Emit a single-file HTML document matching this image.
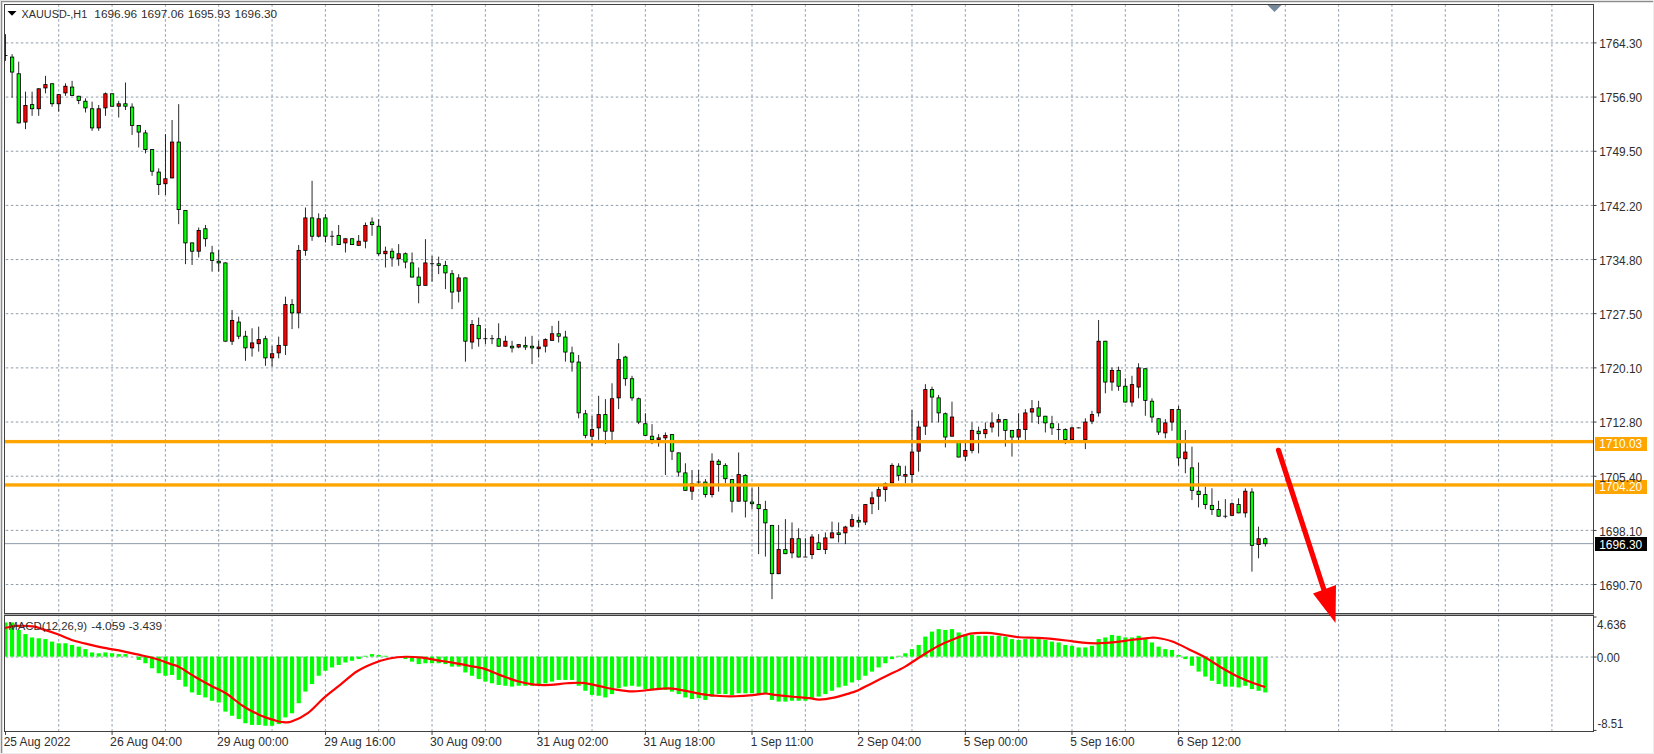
<!DOCTYPE html>
<html><head><meta charset="utf-8"><title>XAUUSD H1</title>
<style>html,body{margin:0;padding:0;background:#fff;overflow:hidden}body{width:1654px;height:754px;position:relative;font-family:'Liberation Sans', sans-serif}text{font-family:'Liberation Sans', sans-serif}</style>
</head><body>
<svg width="1654" height="754" viewBox="0 0 1654 754" style="position:absolute;left:0;top:0"><defs><clipPath id="cm"><rect x="6" y="6" width="1906" height="730"/></clipPath><clipPath id="cd"><rect x="6" y="739" width="1906" height="138"/></clipPath></defs><rect x="0" y="0" width="1654" height="754" fill="#ffffff"/><g shape-rendering="crispEdges"><rect x="0" y="0" width="1654" height="1" fill="#e3e3e3"/><rect x="0" y="0" width="1" height="754" fill="#e3e3e3"/><rect x="1" y="1" width="1652" height="1" fill="#8c8c8c"/><rect x="1" y="1" width="1" height="752" fill="#8c8c8c"/><rect x="2" y="2" width="1651" height="1" fill="#e4e4e4"/><rect x="2" y="2" width="1" height="751" fill="#dcdcdc"/><rect x="1653" y="0" width="1" height="754" fill="#ececec"/><rect x="0" y="753" width="1654" height="1" fill="#ececec"/></g><g transform="scale(0.8332493702770781)"><path d="M70.5 5V736 M134.5 5V736 M198.5 5V736 M262.5 5V736 M326.5 5V736 M390.5 5V736 M454.5 5V736 M518.5 5V736 M582.5 5V736 M646.5 5V736 M710.5 5V736 M774.5 5V736 M838.5 5V736 M902.5 5V736 M966.5 5V736 M1030.5 5V736 M1094.5 5V736 M1158.5 5V736 M1222.5 5V736 M1286.5 5V736 M1350.5 5V736 M1414.5 5V736 M1478.5 5V736 M1542.5 5V736 M1606.5 5V736 M1670.5 5V736 M1734.5 5V736 M1798.5 5V736 M1862.5 5V736" stroke="#778899" stroke-width="1" stroke-dasharray="3 3" fill="none"/><path d="M5 51.5H1912 M5 116.5H1912 M5 181.5H1912 M5 246.5H1912 M5 311.5H1912 M5 376.5H1912 M5 441.5H1912 M5 506.5H1912 M5 571.5H1912 M5 636.5H1912 M5 701.5H1912 M5 788.5H1912" stroke="#778899" stroke-width="1" stroke-dasharray="3 3" stroke-dashoffset="4" fill="none"/><path d="M70.5 737V877 M134.5 737V877 M198.5 737V877 M262.5 737V877 M326.5 737V877 M390.5 737V877 M454.5 737V877 M518.5 737V877 M582.5 737V877 M646.5 737V877 M710.5 737V877 M774.5 737V877 M838.5 737V877 M902.5 737V877 M966.5 737V877 M1030.5 737V877 M1094.5 737V877 M1158.5 737V877 M1222.5 737V877 M1286.5 737V877 M1350.5 737V877 M1414.5 737V877 M1478.5 737V877 M1542.5 737V877 M1606.5 737V877 M1670.5 737V877 M1734.5 737V877 M1798.5 737V877 M1862.5 737V877" stroke="#778899" stroke-width="1" stroke-dasharray="3 3" fill="none"/><rect x="6" y="652" width="1906" height="1" fill="#778899"/><g clip-path="url(#cm)"><g fill="#000000"><rect x="6" y="41" width="1" height="32"/><rect x="14" y="65" width="1" height="52"/><rect x="22" y="74" width="1" height="74"/><rect x="30" y="110" width="1" height="45"/><rect x="38" y="110" width="1" height="29"/><rect x="46" y="106" width="1" height="33"/><rect x="54" y="91" width="1" height="21"/><rect x="62" y="100" width="1" height="28"/><rect x="70" y="113" width="1" height="21"/><rect x="78" y="100" width="1" height="15"/><rect x="86" y="97" width="1" height="18"/><rect x="94" y="115" width="1" height="10"/><rect x="102" y="118" width="1" height="17"/><rect x="110" y="122" width="1" height="35"/><rect x="118" y="126" width="1" height="31"/><rect x="126" y="111" width="1" height="28"/><rect x="134" y="112" width="1" height="16"/><rect x="142" y="121" width="1" height="20"/><rect x="150" y="99" width="1" height="33"/><rect x="158" y="124" width="1" height="38"/><rect x="166" y="150" width="1" height="27"/><rect x="174" y="156" width="1" height="28"/><rect x="182" y="179" width="1" height="32"/><rect x="190" y="202" width="1" height="32"/><rect x="198" y="161" width="1" height="73"/><rect x="206" y="144" width="1" height="70"/><rect x="214" y="125" width="1" height="144"/><rect x="222" y="252" width="1" height="65"/><rect x="230" y="291" width="1" height="27"/><rect x="238" y="273" width="1" height="36"/><rect x="246" y="270" width="1" height="26"/><rect x="254" y="295" width="1" height="31"/><rect x="262" y="300" width="1" height="26"/><rect x="270" y="315" width="1" height="95"/><rect x="278" y="372" width="1" height="42"/><rect x="286" y="380" width="1" height="27"/><rect x="294" y="397" width="1" height="36"/><rect x="302" y="394" width="1" height="34"/><rect x="310" y="392" width="1" height="30"/><rect x="318" y="403" width="1" height="36"/><rect x="326" y="415" width="1" height="25"/><rect x="334" y="404" width="1" height="26"/><rect x="342" y="356" width="1" height="70"/><rect x="350" y="359" width="1" height="36"/><rect x="358" y="294" width="1" height="100"/><rect x="366" y="249" width="1" height="58"/><rect x="374" y="217" width="1" height="72"/><rect x="382" y="256" width="1" height="29"/><rect x="390" y="257" width="1" height="34"/><rect x="398" y="277" width="1" height="18"/><rect x="406" y="270" width="1" height="24"/><rect x="414" y="286" width="1" height="17"/><rect x="422" y="286" width="1" height="8"/><rect x="430" y="282" width="1" height="13"/><rect x="438" y="267" width="1" height="31"/><rect x="446" y="261" width="1" height="22"/><rect x="454" y="263" width="1" height="44"/><rect x="462" y="296" width="1" height="25"/><rect x="470" y="298" width="1" height="22"/><rect x="478" y="293" width="1" height="26"/><rect x="486" y="303" width="1" height="19"/><rect x="494" y="303" width="1" height="30"/><rect x="502" y="321" width="1" height="43"/><rect x="510" y="287" width="1" height="56"/><rect x="518" y="307" width="1" height="31"/><rect x="526" y="308" width="1" height="21"/><rect x="534" y="313" width="1" height="34"/><rect x="542" y="324" width="1" height="47"/><rect x="550" y="329" width="1" height="34"/><rect x="558" y="333" width="1" height="101"/><rect x="566" y="384" width="1" height="35"/><rect x="574" y="381" width="1" height="35"/><rect x="582" y="394" width="1" height="19"/><rect x="590" y="402" width="1" height="11"/><rect x="598" y="388" width="1" height="28"/><rect x="606" y="403" width="1" height="13"/><rect x="614" y="409" width="1" height="14"/><rect x="622" y="413" width="1" height="5"/><rect x="630" y="404" width="1" height="16"/><rect x="638" y="403" width="1" height="34"/><rect x="646" y="409" width="1" height="20"/><rect x="654" y="406" width="1" height="17"/><rect x="662" y="391" width="1" height="18"/><rect x="670" y="385" width="1" height="26"/><rect x="678" y="397" width="1" height="37"/><rect x="686" y="416" width="1" height="30"/><rect x="694" y="426" width="1" height="76"/><rect x="702" y="492" width="1" height="34"/><rect x="710" y="499" width="1" height="36"/><rect x="718" y="475" width="1" height="53"/><rect x="726" y="479" width="1" height="54"/><rect x="734" y="460" width="1" height="68"/><rect x="742" y="412" width="1" height="79"/><rect x="750" y="427" width="1" height="36"/><rect x="758" y="451" width="1" height="30"/><rect x="766" y="477" width="1" height="32"/><rect x="774" y="496" width="1" height="27"/><rect x="782" y="509" width="1" height="24"/><rect x="790" y="521" width="1" height="15"/><rect x="798" y="519" width="1" height="51"/><rect x="806" y="521" width="1" height="31"/><rect x="814" y="543" width="1" height="29"/><rect x="822" y="556" width="1" height="33"/><rect x="830" y="564" width="1" height="36"/><rect x="838" y="564" width="1" height="17"/><rect x="846" y="575" width="1" height="22"/><rect x="854" y="544" width="1" height="53"/><rect x="862" y="551" width="1" height="39"/><rect x="870" y="556" width="1" height="24"/><rect x="878" y="575" width="1" height="40"/><rect x="886" y="543" width="1" height="59"/><rect x="894" y="569" width="1" height="52"/><rect x="902" y="585" width="1" height="26"/><rect x="910" y="584" width="1" height="81"/><rect x="918" y="601" width="1" height="67"/><rect x="926" y="630" width="1" height="89"/><rect x="934" y="630" width="1" height="59"/><rect x="942" y="623" width="1" height="42"/><rect x="950" y="627" width="1" height="43"/><rect x="958" y="634" width="1" height="35"/><rect x="966" y="646" width="1" height="22"/><rect x="974" y="641" width="1" height="30"/><rect x="982" y="641" width="1" height="19"/><rect x="990" y="639" width="1" height="26"/><rect x="998" y="626" width="1" height="20"/><rect x="1006" y="627" width="1" height="24"/><rect x="1014" y="631" width="1" height="22"/><rect x="1022" y="617" width="1" height="16"/><rect x="1030" y="620" width="1" height="13"/><rect x="1038" y="605" width="1" height="25"/><rect x="1046" y="590" width="1" height="27"/><rect x="1054" y="584" width="1" height="28"/><rect x="1062" y="579" width="1" height="23"/><rect x="1070" y="556" width="1" height="24"/><rect x="1078" y="556" width="1" height="21"/><rect x="1086" y="559" width="1" height="21"/><rect x="1094" y="492" width="1" height="88"/><rect x="1102" y="505" width="1" height="61"/><rect x="1110" y="461" width="1" height="61"/><rect x="1118" y="464" width="1" height="43"/><rect x="1126" y="474" width="1" height="33"/><rect x="1134" y="495" width="1" height="42"/><rect x="1142" y="482" width="1" height="42"/><rect x="1150" y="529" width="1" height="20"/><rect x="1158" y="529" width="1" height="24"/><rect x="1166" y="507" width="1" height="37"/><rect x="1174" y="512" width="1" height="32"/><rect x="1182" y="507" width="1" height="19"/><rect x="1190" y="495" width="1" height="24"/><rect x="1198" y="497" width="1" height="27"/><rect x="1206" y="503" width="1" height="33"/><rect x="1214" y="516" width="1" height="32"/><rect x="1222" y="496" width="1" height="32"/><rect x="1230" y="491" width="1" height="37"/><rect x="1238" y="480" width="1" height="27"/><rect x="1246" y="481" width="1" height="28"/><rect x="1254" y="499" width="1" height="20"/><rect x="1262" y="499" width="1" height="23"/><rect x="1270" y="508" width="1" height="20"/><rect x="1278" y="514" width="1" height="19"/><rect x="1286" y="512" width="1" height="16"/><rect x="1294" y="513" width="1" height="1"/><rect x="1302" y="502" width="1" height="37"/><rect x="1310" y="493" width="1" height="16"/><rect x="1318" y="384" width="1" height="116"/><rect x="1326" y="409" width="1" height="63"/><rect x="1334" y="441" width="1" height="28"/><rect x="1342" y="440" width="1" height="29"/><rect x="1350" y="454" width="1" height="29"/><rect x="1358" y="451" width="1" height="37"/><rect x="1366" y="436" width="1" height="42"/><rect x="1374" y="442" width="1" height="57"/><rect x="1382" y="478" width="1" height="29"/><rect x="1390" y="502" width="1" height="20"/><rect x="1398" y="503" width="1" height="23"/><rect x="1406" y="491" width="1" height="26"/><rect x="1414" y="487" width="1" height="72"/><rect x="1422" y="516" width="1" height="52"/><rect x="1430" y="536" width="1" height="64"/><rect x="1438" y="555" width="1" height="54"/><rect x="1446" y="584" width="1" height="27"/><rect x="1454" y="586" width="1" height="32"/><rect x="1462" y="601" width="1" height="19"/><rect x="1470" y="599" width="1" height="23"/><rect x="1478" y="603" width="1" height="16"/><rect x="1486" y="598" width="1" height="18"/><rect x="1494" y="586" width="1" height="35"/><rect x="1502" y="586" width="1" height="100"/><rect x="1510" y="632" width="1" height="38"/><rect x="1518" y="645" width="1" height="11"/></g><g fill="#000000"><rect x="4" y="66" width="5" height="1"/><rect x="12" y="68" width="5" height="19"/><rect x="20" y="88" width="5" height="60"/><rect x="28" y="126" width="5" height="21"/><rect x="36" y="125" width="5" height="6"/><rect x="44" y="106" width="5" height="25"/><rect x="52" y="101" width="5" height="5"/><rect x="60" y="100" width="5" height="25"/><rect x="68" y="113" width="5" height="12"/><rect x="76" y="103" width="5" height="9"/><rect x="84" y="104" width="5" height="11"/><rect x="92" y="115" width="5" height="6"/><rect x="100" y="121" width="5" height="9"/><rect x="108" y="130" width="5" height="24"/><rect x="116" y="130" width="5" height="24"/><rect x="124" y="112" width="5" height="18"/><rect x="132" y="112" width="5" height="16"/><rect x="140" y="124" width="5" height="4"/><rect x="148" y="124" width="5" height="4"/><rect x="156" y="128" width="5" height="23"/><rect x="164" y="150" width="5" height="9"/><rect x="172" y="159" width="5" height="21"/><rect x="180" y="179" width="5" height="27"/><rect x="188" y="206" width="5" height="16"/><rect x="196" y="214" width="5" height="7"/><rect x="204" y="170" width="5" height="44"/><rect x="212" y="170" width="5" height="82"/><rect x="220" y="252" width="5" height="40"/><rect x="228" y="291" width="5" height="11"/><rect x="236" y="276" width="5" height="26"/><rect x="244" y="274" width="5" height="13"/><rect x="252" y="303" width="5" height="10"/><rect x="260" y="313" width="5" height="3"/><rect x="268" y="315" width="5" height="95"/><rect x="276" y="384" width="5" height="26"/><rect x="284" y="386" width="5" height="18"/><rect x="292" y="403" width="5" height="15"/><rect x="300" y="411" width="5" height="7"/><rect x="308" y="407" width="5" height="6"/><rect x="316" y="406" width="5" height="24"/><rect x="324" y="424" width="5" height="6"/><rect x="332" y="414" width="5" height="10"/><rect x="340" y="365" width="5" height="50"/><rect x="348" y="365" width="5" height="11"/><rect x="356" y="300" width="5" height="76"/><rect x="364" y="261" width="5" height="40"/><rect x="372" y="261" width="5" height="23"/><rect x="380" y="262" width="5" height="22"/><rect x="388" y="261" width="5" height="23"/><rect x="396" y="283" width="5" height="1"/><rect x="404" y="282" width="5" height="12"/><rect x="412" y="286" width="5" height="6"/><rect x="420" y="286" width="5" height="8"/><rect x="428" y="289" width="5" height="6"/><rect x="436" y="270" width="5" height="20"/><rect x="444" y="266" width="5" height="4"/><rect x="452" y="271" width="5" height="34"/><rect x="460" y="301" width="5" height="4"/><rect x="468" y="301" width="5" height="9"/><rect x="476" y="304" width="5" height="7"/><rect x="484" y="304" width="5" height="11"/><rect x="492" y="315" width="5" height="18"/><rect x="500" y="332" width="5" height="11"/><rect x="508" y="315" width="5" height="28"/><rect x="516" y="316" width="5" height="1"/><rect x="524" y="316" width="5" height="3"/><rect x="532" y="318" width="5" height="10"/><rect x="540" y="328" width="5" height="23"/><rect x="548" y="333" width="5" height="17"/><rect x="556" y="333" width="5" height="77"/><rect x="564" y="389" width="5" height="22"/><rect x="572" y="390" width="5" height="17"/><rect x="580" y="406" width="5" height="1"/><rect x="588" y="406" width="5" height="1"/><rect x="596" y="406" width="5" height="10"/><rect x="604" y="409" width="5" height="7"/><rect x="612" y="415" width="5" height="3"/><rect x="620" y="413" width="5" height="4"/><rect x="628" y="414" width="5" height="3"/><rect x="636" y="415" width="5" height="3"/><rect x="644" y="416" width="5" height="3"/><rect x="652" y="407" width="5" height="9"/><rect x="660" y="400" width="5" height="9"/><rect x="668" y="400" width="5" height="4"/><rect x="676" y="404" width="5" height="19"/><rect x="684" y="423" width="5" height="12"/><rect x="692" y="434" width="5" height="62"/><rect x="700" y="496" width="5" height="27"/><rect x="708" y="515" width="5" height="9"/><rect x="716" y="497" width="5" height="17"/><rect x="724" y="497" width="5" height="21"/><rect x="732" y="478" width="5" height="40"/><rect x="740" y="431" width="5" height="47"/><rect x="748" y="428" width="5" height="27"/><rect x="756" y="454" width="5" height="24"/><rect x="764" y="478" width="5" height="29"/><rect x="772" y="508" width="5" height="15"/><rect x="780" y="523" width="5" height="5"/><rect x="788" y="525" width="5" height="3"/><rect x="796" y="522" width="5" height="4"/><rect x="804" y="521" width="5" height="21"/><rect x="812" y="543" width="5" height="24"/><rect x="820" y="567" width="5" height="22"/><rect x="828" y="580" width="5" height="10"/><rect x="836" y="578" width="5" height="1"/><rect x="844" y="578" width="5" height="16"/><rect x="852" y="553" width="5" height="41"/><rect x="860" y="553" width="5" height="5"/><rect x="868" y="558" width="5" height="17"/><rect x="876" y="575" width="5" height="27"/><rect x="884" y="569" width="5" height="33"/><rect x="892" y="570" width="5" height="32"/><rect x="900" y="602" width="5" height="3"/><rect x="908" y="605" width="5" height="6"/><rect x="916" y="611" width="5" height="17"/><rect x="924" y="630" width="5" height="59"/><rect x="932" y="659" width="5" height="30"/><rect x="940" y="659" width="5" height="6"/><rect x="948" y="646" width="5" height="18"/><rect x="956" y="646" width="5" height="23"/><rect x="964" y="668" width="5" height="1"/><rect x="972" y="644" width="5" height="22"/><rect x="980" y="651" width="5" height="9"/><rect x="988" y="645" width="5" height="15"/><rect x="996" y="639" width="5" height="7"/><rect x="1004" y="639" width="5" height="3"/><rect x="1012" y="632" width="5" height="8"/><rect x="1020" y="623" width="5" height="9"/><rect x="1028" y="624" width="5" height="3"/><rect x="1036" y="605" width="5" height="22"/><rect x="1044" y="597" width="5" height="8"/><rect x="1052" y="587" width="5" height="9"/><rect x="1060" y="580" width="5" height="8"/><rect x="1068" y="558" width="5" height="22"/><rect x="1076" y="559" width="5" height="12"/><rect x="1084" y="569" width="5" height="3"/><rect x="1092" y="542" width="5" height="28"/><rect x="1100" y="512" width="5" height="30"/><rect x="1108" y="467" width="5" height="45"/><rect x="1116" y="467" width="5" height="10"/><rect x="1124" y="477" width="5" height="19"/><rect x="1132" y="496" width="5" height="29"/><rect x="1140" y="500" width="5" height="24"/><rect x="1148" y="529" width="5" height="20"/><rect x="1156" y="540" width="5" height="8"/><rect x="1164" y="516" width="5" height="25"/><rect x="1172" y="517" width="5" height="4"/><rect x="1180" y="515" width="5" height="6"/><rect x="1188" y="507" width="5" height="6"/><rect x="1196" y="503" width="5" height="4"/><rect x="1204" y="503" width="5" height="14"/><rect x="1212" y="516" width="5" height="9"/><rect x="1220" y="515" width="5" height="10"/><rect x="1228" y="495" width="5" height="21"/><rect x="1236" y="490" width="5" height="5"/><rect x="1244" y="489" width="5" height="11"/><rect x="1252" y="499" width="5" height="9"/><rect x="1260" y="508" width="5" height="6"/><rect x="1268" y="515" width="5" height="1"/><rect x="1276" y="515" width="5" height="13"/><rect x="1284" y="513" width="5" height="15"/><rect x="1292" y="513" width="5" height="1"/><rect x="1300" y="506" width="5" height="22"/><rect x="1308" y="497" width="5" height="9"/><rect x="1316" y="409" width="5" height="87"/><rect x="1324" y="409" width="5" height="50"/><rect x="1332" y="444" width="5" height="15"/><rect x="1340" y="444" width="5" height="20"/><rect x="1348" y="463" width="5" height="20"/><rect x="1356" y="461" width="5" height="22"/><rect x="1364" y="441" width="5" height="24"/><rect x="1372" y="442" width="5" height="39"/><rect x="1380" y="481" width="5" height="20"/><rect x="1388" y="502" width="5" height="17"/><rect x="1396" y="507" width="5" height="13"/><rect x="1404" y="491" width="5" height="16"/><rect x="1412" y="491" width="5" height="59"/><rect x="1420" y="542" width="5" height="9"/><rect x="1428" y="561" width="5" height="28"/><rect x="1436" y="589" width="5" height="5"/><rect x="1444" y="593" width="5" height="13"/><rect x="1452" y="606" width="5" height="6"/><rect x="1460" y="611" width="5" height="9"/><rect x="1468" y="619" width="5" height="1"/><rect x="1476" y="604" width="5" height="15"/><rect x="1484" y="605" width="5" height="11"/><rect x="1492" y="589" width="5" height="27"/><rect x="1500" y="590" width="5" height="65"/><rect x="1508" y="646" width="5" height="8"/><rect x="1516" y="646" width="5" height="7"/></g><g fill="#00ff00"><rect x="13" y="69" width="3" height="17"/><rect x="21" y="89" width="3" height="58"/><rect x="37" y="126" width="3" height="4"/><rect x="61" y="101" width="3" height="23"/><rect x="85" y="105" width="3" height="9"/><rect x="93" y="116" width="3" height="4"/><rect x="101" y="122" width="3" height="7"/><rect x="109" y="131" width="3" height="22"/><rect x="133" y="113" width="3" height="14"/><rect x="149" y="125" width="3" height="2"/><rect x="157" y="129" width="3" height="21"/><rect x="165" y="151" width="3" height="7"/><rect x="173" y="160" width="3" height="19"/><rect x="181" y="180" width="3" height="25"/><rect x="189" y="207" width="3" height="14"/><rect x="213" y="171" width="3" height="80"/><rect x="221" y="253" width="3" height="38"/><rect x="229" y="292" width="3" height="9"/><rect x="245" y="275" width="3" height="11"/><rect x="253" y="304" width="3" height="8"/><rect x="261" y="314" width="3" height="1"/><rect x="269" y="316" width="3" height="93"/><rect x="285" y="387" width="3" height="16"/><rect x="293" y="404" width="3" height="13"/><rect x="317" y="407" width="3" height="22"/><rect x="349" y="366" width="3" height="9"/><rect x="373" y="262" width="3" height="21"/><rect x="389" y="262" width="3" height="21"/><rect x="405" y="283" width="3" height="10"/><rect x="421" y="287" width="3" height="6"/><rect x="445" y="267" width="3" height="2"/><rect x="453" y="272" width="3" height="32"/><rect x="469" y="302" width="3" height="7"/><rect x="485" y="305" width="3" height="9"/><rect x="493" y="316" width="3" height="16"/><rect x="501" y="333" width="3" height="9"/><rect x="525" y="317" width="3" height="1"/><rect x="533" y="319" width="3" height="8"/><rect x="541" y="329" width="3" height="21"/><rect x="557" y="334" width="3" height="75"/><rect x="573" y="391" width="3" height="15"/><rect x="597" y="407" width="3" height="8"/><rect x="613" y="416" width="3" height="1"/><rect x="629" y="415" width="3" height="1"/><rect x="637" y="416" width="3" height="1"/><rect x="669" y="401" width="3" height="2"/><rect x="677" y="405" width="3" height="17"/><rect x="685" y="424" width="3" height="10"/><rect x="693" y="435" width="3" height="60"/><rect x="701" y="497" width="3" height="25"/><rect x="725" y="498" width="3" height="19"/><rect x="749" y="429" width="3" height="25"/><rect x="757" y="455" width="3" height="22"/><rect x="765" y="479" width="3" height="27"/><rect x="773" y="509" width="3" height="13"/><rect x="781" y="524" width="3" height="3"/><rect x="805" y="522" width="3" height="19"/><rect x="813" y="544" width="3" height="22"/><rect x="821" y="568" width="3" height="20"/><rect x="845" y="579" width="3" height="14"/><rect x="861" y="554" width="3" height="3"/><rect x="869" y="559" width="3" height="15"/><rect x="877" y="576" width="3" height="25"/><rect x="893" y="571" width="3" height="30"/><rect x="901" y="603" width="3" height="1"/><rect x="909" y="606" width="3" height="4"/><rect x="917" y="612" width="3" height="15"/><rect x="925" y="631" width="3" height="57"/><rect x="941" y="660" width="3" height="4"/><rect x="957" y="647" width="3" height="21"/><rect x="981" y="652" width="3" height="7"/><rect x="1005" y="640" width="3" height="1"/><rect x="1029" y="625" width="3" height="1"/><rect x="1077" y="560" width="3" height="10"/><rect x="1117" y="468" width="3" height="8"/><rect x="1125" y="478" width="3" height="17"/><rect x="1133" y="497" width="3" height="27"/><rect x="1149" y="530" width="3" height="18"/><rect x="1173" y="518" width="3" height="2"/><rect x="1205" y="504" width="3" height="12"/><rect x="1213" y="517" width="3" height="7"/><rect x="1245" y="490" width="3" height="9"/><rect x="1253" y="500" width="3" height="7"/><rect x="1261" y="509" width="3" height="4"/><rect x="1277" y="516" width="3" height="11"/><rect x="1325" y="410" width="3" height="48"/><rect x="1341" y="445" width="3" height="18"/><rect x="1349" y="464" width="3" height="18"/><rect x="1373" y="443" width="3" height="37"/><rect x="1381" y="482" width="3" height="18"/><rect x="1389" y="503" width="3" height="15"/><rect x="1413" y="492" width="3" height="57"/><rect x="1429" y="562" width="3" height="26"/><rect x="1437" y="590" width="3" height="3"/><rect x="1445" y="594" width="3" height="11"/><rect x="1453" y="607" width="3" height="4"/><rect x="1461" y="612" width="3" height="7"/><rect x="1485" y="606" width="3" height="9"/><rect x="1501" y="591" width="3" height="63"/><rect x="1517" y="647" width="3" height="5"/></g><g fill="#ff0000"><rect x="29" y="127" width="3" height="19"/><rect x="45" y="107" width="3" height="23"/><rect x="53" y="102" width="3" height="3"/><rect x="69" y="114" width="3" height="10"/><rect x="77" y="104" width="3" height="7"/><rect x="117" y="131" width="3" height="22"/><rect x="125" y="113" width="3" height="16"/><rect x="141" y="125" width="3" height="2"/><rect x="197" y="215" width="3" height="5"/><rect x="205" y="171" width="3" height="42"/><rect x="237" y="277" width="3" height="24"/><rect x="277" y="385" width="3" height="24"/><rect x="301" y="412" width="3" height="5"/><rect x="309" y="408" width="3" height="4"/><rect x="325" y="425" width="3" height="4"/><rect x="333" y="415" width="3" height="8"/><rect x="341" y="366" width="3" height="48"/><rect x="357" y="301" width="3" height="74"/><rect x="365" y="262" width="3" height="38"/><rect x="381" y="263" width="3" height="20"/><rect x="413" y="287" width="3" height="4"/><rect x="429" y="290" width="3" height="4"/><rect x="437" y="271" width="3" height="18"/><rect x="461" y="302" width="3" height="2"/><rect x="477" y="305" width="3" height="5"/><rect x="509" y="316" width="3" height="26"/><rect x="549" y="334" width="3" height="15"/><rect x="565" y="390" width="3" height="20"/><rect x="605" y="410" width="3" height="5"/><rect x="621" y="414" width="3" height="2"/><rect x="645" y="417" width="3" height="1"/><rect x="653" y="408" width="3" height="7"/><rect x="661" y="401" width="3" height="7"/><rect x="709" y="516" width="3" height="7"/><rect x="717" y="498" width="3" height="15"/><rect x="733" y="479" width="3" height="38"/><rect x="741" y="432" width="3" height="45"/><rect x="789" y="526" width="3" height="1"/><rect x="797" y="523" width="3" height="2"/><rect x="829" y="581" width="3" height="8"/><rect x="853" y="554" width="3" height="39"/><rect x="885" y="570" width="3" height="31"/><rect x="933" y="660" width="3" height="28"/><rect x="949" y="647" width="3" height="16"/><rect x="973" y="645" width="3" height="20"/><rect x="989" y="646" width="3" height="13"/><rect x="997" y="640" width="3" height="5"/><rect x="1013" y="633" width="3" height="6"/><rect x="1021" y="624" width="3" height="7"/><rect x="1037" y="606" width="3" height="20"/><rect x="1045" y="598" width="3" height="6"/><rect x="1053" y="588" width="3" height="7"/><rect x="1061" y="581" width="3" height="6"/><rect x="1069" y="559" width="3" height="20"/><rect x="1085" y="570" width="3" height="1"/><rect x="1093" y="543" width="3" height="26"/><rect x="1101" y="513" width="3" height="28"/><rect x="1109" y="468" width="3" height="43"/><rect x="1141" y="501" width="3" height="22"/><rect x="1157" y="541" width="3" height="6"/><rect x="1165" y="517" width="3" height="23"/><rect x="1181" y="516" width="3" height="4"/><rect x="1189" y="508" width="3" height="4"/><rect x="1197" y="504" width="3" height="2"/><rect x="1221" y="516" width="3" height="8"/><rect x="1229" y="496" width="3" height="19"/><rect x="1237" y="491" width="3" height="3"/><rect x="1285" y="514" width="3" height="13"/><rect x="1301" y="507" width="3" height="20"/><rect x="1309" y="498" width="3" height="7"/><rect x="1317" y="410" width="3" height="85"/><rect x="1333" y="445" width="3" height="13"/><rect x="1357" y="462" width="3" height="20"/><rect x="1365" y="442" width="3" height="22"/><rect x="1397" y="508" width="3" height="11"/><rect x="1405" y="492" width="3" height="14"/><rect x="1421" y="543" width="3" height="7"/><rect x="1477" y="605" width="3" height="13"/><rect x="1493" y="590" width="3" height="25"/><rect x="1509" y="647" width="3" height="6"/></g></g><rect x="6" y="528" width="1906" height="4" fill="#ffa500"/><rect x="6" y="580" width="1906" height="4" fill="#ffa500"/><g clip-path="url(#cd)" fill="#00ff00"><rect x="4" y="747" width="5" height="41"/><rect x="12" y="747" width="5" height="41"/><rect x="20" y="756" width="5" height="32"/><rect x="28" y="761" width="5" height="27"/><rect x="36" y="765" width="5" height="23"/><rect x="44" y="766" width="5" height="22"/><rect x="52" y="767" width="5" height="21"/><rect x="60" y="770" width="5" height="18"/><rect x="68" y="772" width="5" height="16"/><rect x="76" y="772" width="5" height="16"/><rect x="84" y="774" width="5" height="14"/><rect x="92" y="776" width="5" height="12"/><rect x="100" y="779" width="5" height="9"/><rect x="108" y="783" width="5" height="5"/><rect x="116" y="784" width="5" height="4"/><rect x="124" y="783" width="5" height="5"/><rect x="132" y="784" width="5" height="4"/><rect x="140" y="785" width="5" height="3"/><rect x="148" y="785" width="5" height="3"/><rect x="164" y="788" width="5" height="4"/><rect x="172" y="788" width="5" height="8"/><rect x="180" y="788" width="5" height="14"/><rect x="188" y="788" width="5" height="20"/><rect x="196" y="788" width="5" height="23"/><rect x="204" y="788" width="5" height="22"/><rect x="212" y="788" width="5" height="28"/><rect x="220" y="788" width="5" height="36"/><rect x="228" y="788" width="5" height="43"/><rect x="236" y="788" width="5" height="46"/><rect x="244" y="788" width="5" height="49"/><rect x="252" y="788" width="5" height="53"/><rect x="260" y="788" width="5" height="55"/><rect x="268" y="788" width="5" height="66"/><rect x="276" y="788" width="5" height="71"/><rect x="284" y="788" width="5" height="75"/><rect x="292" y="788" width="5" height="80"/><rect x="300" y="788" width="5" height="82"/><rect x="308" y="788" width="5" height="82"/><rect x="316" y="788" width="5" height="83"/><rect x="324" y="788" width="5" height="83"/><rect x="332" y="788" width="5" height="81"/><rect x="340" y="788" width="5" height="73"/><rect x="348" y="788" width="5" height="68"/><rect x="356" y="788" width="5" height="56"/><rect x="364" y="788" width="5" height="42"/><rect x="372" y="788" width="5" height="33"/><rect x="380" y="788" width="5" height="23"/><rect x="388" y="788" width="5" height="17"/><rect x="396" y="788" width="5" height="13"/><rect x="404" y="788" width="5" height="10"/><rect x="412" y="788" width="5" height="7"/><rect x="420" y="788" width="5" height="5"/><rect x="428" y="788" width="5" height="3"/><rect x="436" y="787" width="5" height="1"/><rect x="444" y="785" width="5" height="3"/><rect x="452" y="786" width="5" height="2"/><rect x="460" y="787" width="5" height="1"/><rect x="484" y="788" width="5" height="3"/><rect x="492" y="788" width="5" height="6"/><rect x="500" y="788" width="5" height="9"/><rect x="508" y="788" width="5" height="8"/><rect x="516" y="788" width="5" height="8"/><rect x="524" y="788" width="5" height="8"/><rect x="532" y="788" width="5" height="9"/><rect x="540" y="788" width="5" height="12"/><rect x="548" y="788" width="5" height="12"/><rect x="556" y="788" width="5" height="19"/><rect x="564" y="788" width="5" height="23"/><rect x="572" y="788" width="5" height="27"/><rect x="580" y="788" width="5" height="30"/><rect x="588" y="788" width="5" height="32"/><rect x="596" y="788" width="5" height="34"/><rect x="604" y="788" width="5" height="35"/><rect x="612" y="788" width="5" height="36"/><rect x="620" y="788" width="5" height="35"/><rect x="628" y="788" width="5" height="35"/><rect x="636" y="788" width="5" height="35"/><rect x="644" y="788" width="5" height="34"/><rect x="652" y="788" width="5" height="32"/><rect x="660" y="788" width="5" height="30"/><rect x="668" y="788" width="5" height="28"/><rect x="676" y="788" width="5" height="28"/><rect x="684" y="788" width="5" height="28"/><rect x="692" y="788" width="5" height="35"/><rect x="700" y="788" width="5" height="41"/><rect x="708" y="788" width="5" height="46"/><rect x="716" y="788" width="5" height="47"/><rect x="724" y="788" width="5" height="49"/><rect x="732" y="788" width="5" height="45"/><rect x="740" y="788" width="5" height="38"/><rect x="748" y="788" width="5" height="36"/><rect x="756" y="788" width="5" height="35"/><rect x="764" y="788" width="5" height="36"/><rect x="772" y="788" width="5" height="39"/><rect x="780" y="788" width="5" height="40"/><rect x="788" y="788" width="5" height="38"/><rect x="796" y="788" width="5" height="40"/><rect x="804" y="788" width="5" height="42"/><rect x="812" y="788" width="5" height="45"/><rect x="820" y="788" width="5" height="49"/><rect x="828" y="788" width="5" height="51"/><rect x="836" y="788" width="5" height="50"/><rect x="844" y="788" width="5" height="52"/><rect x="852" y="788" width="5" height="48"/><rect x="860" y="788" width="5" height="45"/><rect x="868" y="788" width="5" height="45"/><rect x="876" y="788" width="5" height="46"/><rect x="884" y="788" width="5" height="44"/><rect x="892" y="788" width="5" height="44"/><rect x="900" y="788" width="5" height="44"/><rect x="908" y="788" width="5" height="45"/><rect x="916" y="788" width="5" height="45"/><rect x="924" y="788" width="5" height="52"/><rect x="932" y="788" width="5" height="54"/><rect x="940" y="788" width="5" height="54"/><rect x="948" y="788" width="5" height="53"/><rect x="956" y="788" width="5" height="53"/><rect x="964" y="788" width="5" height="53"/><rect x="972" y="788" width="5" height="50"/><rect x="980" y="788" width="5" height="48"/><rect x="988" y="788" width="5" height="45"/><rect x="996" y="788" width="5" height="41"/><rect x="1004" y="788" width="5" height="37"/><rect x="1012" y="788" width="5" height="35"/><rect x="1020" y="788" width="5" height="31"/><rect x="1028" y="788" width="5" height="28"/><rect x="1036" y="788" width="5" height="23"/><rect x="1044" y="788" width="5" height="18"/><rect x="1052" y="788" width="5" height="13"/><rect x="1060" y="788" width="5" height="8"/><rect x="1068" y="788" width="5" height="3"/><rect x="1076" y="787" width="5" height="1"/><rect x="1084" y="784" width="5" height="4"/><rect x="1092" y="779" width="5" height="9"/><rect x="1100" y="774" width="5" height="14"/><rect x="1108" y="764" width="5" height="24"/><rect x="1116" y="758" width="5" height="30"/><rect x="1124" y="755" width="5" height="33"/><rect x="1132" y="756" width="5" height="32"/><rect x="1140" y="755" width="5" height="33"/><rect x="1148" y="759" width="5" height="29"/><rect x="1156" y="763" width="5" height="25"/><rect x="1164" y="762" width="5" height="26"/><rect x="1172" y="763" width="5" height="25"/><rect x="1180" y="763" width="5" height="25"/><rect x="1188" y="763" width="5" height="25"/><rect x="1196" y="763" width="5" height="25"/><rect x="1204" y="764" width="5" height="24"/><rect x="1212" y="767" width="5" height="21"/><rect x="1220" y="768" width="5" height="20"/><rect x="1228" y="767" width="5" height="21"/><rect x="1236" y="767" width="5" height="21"/><rect x="1244" y="767" width="5" height="21"/><rect x="1252" y="768" width="5" height="20"/><rect x="1260" y="770" width="5" height="18"/><rect x="1268" y="771" width="5" height="17"/><rect x="1276" y="774" width="5" height="14"/><rect x="1284" y="775" width="5" height="13"/><rect x="1292" y="777" width="5" height="11"/><rect x="1300" y="777" width="5" height="11"/><rect x="1308" y="775" width="5" height="13"/><rect x="1316" y="767" width="5" height="21"/><rect x="1324" y="765" width="5" height="23"/><rect x="1332" y="762" width="5" height="26"/><rect x="1340" y="763" width="5" height="25"/><rect x="1348" y="765" width="5" height="23"/><rect x="1356" y="765" width="5" height="23"/><rect x="1364" y="763" width="5" height="25"/><rect x="1372" y="767" width="5" height="21"/><rect x="1380" y="771" width="5" height="17"/><rect x="1388" y="776" width="5" height="12"/><rect x="1396" y="779" width="5" height="9"/><rect x="1404" y="780" width="5" height="8"/><rect x="1412" y="786" width="5" height="2"/><rect x="1420" y="788" width="5" height="3"/><rect x="1428" y="788" width="5" height="11"/><rect x="1436" y="788" width="5" height="18"/><rect x="1444" y="788" width="5" height="24"/><rect x="1452" y="788" width="5" height="29"/><rect x="1460" y="788" width="5" height="33"/><rect x="1468" y="788" width="5" height="36"/><rect x="1476" y="788" width="5" height="36"/><rect x="1484" y="788" width="5" height="37"/><rect x="1492" y="788" width="5" height="35"/><rect x="1500" y="788" width="5" height="39"/><rect x="1508" y="788" width="5" height="41"/><rect x="1516" y="788" width="5" height="43"/></g><g clip-path="url(#cd)"><path d="M6.0 753.7 C8.3 753.3 14.0 751.5 19.6 751.2 C25.1 750.8 33.9 751.1 39.1 751.8 C44.3 752.4 46.0 753.5 50.9 755.0 C55.8 756.5 62.3 758.6 68.5 760.9 C74.7 763.2 81.6 766.6 88.1 768.7 C94.6 770.8 101.1 772.1 107.7 773.6 C114.2 775.1 120.7 776.6 127.2 777.9 C133.7 779.2 140.3 780.1 146.8 781.4 C153.3 782.7 159.8 784.2 166.3 785.7 C172.9 787.2 179.4 788.4 185.9 790.3 C192.4 792.2 200.6 795.4 205.5 797.1 C210.4 798.8 210.4 798.0 215.3 800.6 C220.2 803.2 228.3 808.9 234.9 812.7 C241.4 816.5 248.3 820.3 254.4 823.5 C260.5 826.8 265.5 828.4 271.6 832.3 C277.7 836.2 284.6 842.8 291.1 847.0 C297.7 851.3 304.2 854.8 310.7 857.7 C317.2 860.6 325.4 863.1 330.3 864.6 C335.2 866.0 336.9 866.4 340.1 866.6 C343.4 866.8 345.0 867.8 349.8 866.0 C354.7 864.2 362.9 860.6 369.4 855.8 C375.9 851.0 382.5 842.9 389.1 837.2 C395.6 831.5 402.1 826.8 408.6 821.6 C415.2 816.4 421.7 810.1 428.2 805.9 C434.7 801.6 441.2 798.8 447.8 796.2 C454.3 793.6 460.8 791.6 467.3 790.3 C473.8 789.0 480.4 788.4 486.9 788.2 C493.4 788.1 500.3 788.7 506.5 789.3 C512.6 790.0 517.5 791.2 523.6 792.2 C529.7 793.2 536.7 794.1 543.2 795.2 C549.7 796.3 556.2 797.7 562.7 799.0 C569.3 800.3 575.8 801.0 582.3 803.0 C588.8 805.0 595.3 808.4 601.9 810.8 C608.4 813.2 614.9 815.8 621.4 817.6 C628.0 819.4 634.6 820.9 641.1 821.6 C647.6 822.3 654.1 822.2 660.7 822.0 C667.2 821.7 673.7 820.4 680.2 820.0 C686.7 819.6 693.3 819.0 699.8 819.6 C706.3 820.1 712.8 822.2 719.4 823.5 C725.9 824.8 732.4 826.4 738.9 827.5 C745.4 828.5 752.4 829.6 758.5 829.8 C764.6 829.9 769.5 829.0 775.6 828.4 C781.8 827.9 790.0 826.7 795.2 826.4 C800.4 826.1 802.1 825.9 807.0 826.4 C811.9 826.9 818.4 828.2 824.6 829.4 C830.8 830.6 837.6 832.4 844.2 833.4 C850.7 834.3 857.2 834.9 863.7 835.3 C870.2 835.7 876.8 835.8 883.3 835.6 C889.8 835.5 897.0 834.9 902.9 834.3 C908.7 833.8 913.7 832.3 918.6 832.3 C923.5 832.3 926.7 833.7 932.3 834.3 C937.8 835.0 945.3 835.7 951.8 836.2 C958.3 836.8 966.2 837.2 971.4 837.8 C976.6 838.4 978.2 839.7 983.1 839.6 C988.0 839.5 994.6 838.5 1000.8 837.2 C1006.9 835.9 1015.6 833.1 1020.1 831.8 C1024.6 830.5 1023.1 831.4 1027.7 829.4 C1032.2 827.4 1040.7 822.8 1047.2 819.6 C1053.7 816.3 1060.3 813.1 1066.8 809.8 C1073.3 806.6 1079.8 803.8 1086.3 800.0 C1092.9 796.2 1099.4 791.4 1105.9 787.3 C1112.4 783.2 1118.9 778.9 1125.5 775.5 C1132.0 772.1 1138.6 769.3 1145.2 766.8 C1151.7 764.3 1158.2 761.7 1164.7 760.5 C1171.2 759.3 1177.8 759.3 1184.3 759.6 C1190.8 759.8 1197.3 761.0 1203.8 761.8 C1210.4 762.7 1216.9 764.2 1223.4 764.8 C1229.9 765.4 1236.4 765.1 1243.0 765.4 C1249.5 765.8 1256.4 766.2 1262.5 766.8 C1268.6 767.3 1273.6 767.9 1279.7 768.7 C1285.8 769.4 1292.7 770.8 1299.3 771.3 C1305.8 771.9 1312.3 772.1 1318.8 772.0 C1325.3 771.9 1331.9 771.4 1338.4 770.7 C1344.9 770.1 1351.4 768.9 1357.9 768.1 C1364.5 767.3 1372.6 766.2 1377.5 765.8 C1382.4 765.4 1382.4 764.8 1387.3 765.4 C1392.2 766.1 1400.4 767.5 1406.9 769.8 C1413.4 772.0 1419.9 775.9 1426.5 779.1 C1433.0 782.3 1439.5 785.2 1446.0 788.8 C1452.5 792.5 1459.1 797.1 1465.6 801.0 C1472.1 804.8 1478.6 808.6 1485.1 811.8 C1491.7 814.9 1499.2 817.9 1504.7 820.0 C1510.3 822.2 1516.2 823.7 1518.5 824.5" fill="none" stroke="#ff0000" stroke-width="2.64" stroke-linejoin="round"/></g><g fill="#1a1a1a"><rect x="1913" y="51" width="3" height="1"/><rect x="1913" y="116" width="3" height="1"/><rect x="1913" y="181" width="3" height="1"/><rect x="1913" y="246" width="3" height="1"/><rect x="1913" y="311" width="3" height="1"/><rect x="1913" y="376" width="3" height="1"/><rect x="1913" y="441" width="3" height="1"/><rect x="1913" y="506" width="3" height="1"/><rect x="1913" y="571" width="3" height="1"/><rect x="1913" y="636" width="3" height="1"/><rect x="1913" y="701" width="3" height="1"/><rect x="1913" y="740" width="3" height="1"/><rect x="1913" y="788" width="3" height="1"/><rect x="1913" y="876" width="3" height="1"/><rect x="6" y="878" width="1" height="4"/><rect x="134" y="878" width="1" height="4"/><rect x="262" y="878" width="1" height="4"/><rect x="390" y="878" width="1" height="4"/><rect x="518" y="878" width="1" height="4"/><rect x="646" y="878" width="1" height="4"/><rect x="774" y="878" width="1" height="4"/><rect x="902" y="878" width="1" height="4"/><rect x="1030" y="878" width="1" height="4"/><rect x="1158" y="878" width="1" height="4"/><rect x="1286" y="878" width="1" height="4"/><rect x="1414" y="878" width="1" height="4"/></g></g><g shape-rendering="crispEdges" fill="#404040"><rect x="4" y="4" width="1590" height="1"/><rect x="4" y="4" width="1" height="610"/><rect x="1593" y="4" width="1" height="610"/><rect x="4" y="613" width="1590" height="1"/><rect x="4" y="615" width="1590" height="1"/><rect x="4" y="615" width="1" height="117"/><rect x="1593" y="615" width="1" height="117"/><rect x="4" y="731" width="1590" height="1"/></g><rect x="4" y="614" width="1590" height="1" fill="#a8a8a8" shape-rendering="crispEdges"/><g shape-rendering="crispEdges"><rect x="1595" y="437" width="52" height="14" fill="#ffa500"/><rect x="1595" y="480" width="52" height="14" fill="#ffa500"/><rect x="1595" y="537" width="52" height="14" fill="#000000"/></g><polygon points="1267.5,5 1281.5,5 1274.5,12" fill="#778899"/><polygon points="7.5,11 16.5,11 12,15.7" fill="#000000"/><g><text x="21.62" y="18" fill="#2e2e2e" font-size="11.7" textLength="65.56" lengthAdjust="spacingAndGlyphs">XAUUSD-,H1</text><text x="94.34" y="18" fill="#2e2e2e" font-size="11.7" textLength="42.77" lengthAdjust="spacingAndGlyphs">1696.96</text><text x="141.04" y="18" fill="#2e2e2e" font-size="11.7" textLength="42.77" lengthAdjust="spacingAndGlyphs">1697.06</text><text x="187.75" y="18" fill="#2e2e2e" font-size="11.7" textLength="42.46" lengthAdjust="spacingAndGlyphs">1695.93</text><text x="234.55" y="18" fill="#2e2e2e" font-size="11.7" textLength="42.46" lengthAdjust="spacingAndGlyphs">1696.30</text><text x="1599.26" y="47.7" fill="#2e2e2e" font-size="12" textLength="42.98" lengthAdjust="spacingAndGlyphs">1764.30</text><text x="1599.26" y="101.7" fill="#2e2e2e" font-size="12" textLength="42.98" lengthAdjust="spacingAndGlyphs">1756.90</text><text x="1599.26" y="155.7" fill="#2e2e2e" font-size="12" textLength="42.98" lengthAdjust="spacingAndGlyphs">1749.50</text><text x="1599.26" y="210.7" fill="#2e2e2e" font-size="12" textLength="42.98" lengthAdjust="spacingAndGlyphs">1742.20</text><text x="1599.26" y="264.7" fill="#2e2e2e" font-size="12" textLength="42.98" lengthAdjust="spacingAndGlyphs">1734.80</text><text x="1599.26" y="318.7" fill="#2e2e2e" font-size="12" textLength="42.98" lengthAdjust="spacingAndGlyphs">1727.50</text><text x="1599.26" y="372.7" fill="#2e2e2e" font-size="12" textLength="42.98" lengthAdjust="spacingAndGlyphs">1720.10</text><text x="1599.26" y="426.7" fill="#2e2e2e" font-size="12" textLength="42.98" lengthAdjust="spacingAndGlyphs">1712.80</text><text x="1599.26" y="481.7" fill="#2e2e2e" font-size="12" textLength="42.98" lengthAdjust="spacingAndGlyphs">1705.40</text><text x="1599.26" y="535.7" fill="#2e2e2e" font-size="12" textLength="42.98" lengthAdjust="spacingAndGlyphs">1698.10</text><text x="1599.26" y="589.7" fill="#2e2e2e" font-size="12" textLength="42.98" lengthAdjust="spacingAndGlyphs">1690.70</text><text x="1599.26" y="448.2" fill="#ffffff" font-size="12" textLength="42.98" lengthAdjust="spacingAndGlyphs">1710.03</text><text x="1599.26" y="491.2" fill="#ffffff" font-size="12" textLength="42.98" lengthAdjust="spacingAndGlyphs">1704.20</text><text x="1599.26" y="549.2" fill="#ffffff" font-size="12" textLength="42.98" lengthAdjust="spacingAndGlyphs">1696.30</text><text x="1597.05" y="628.8" fill="#2e2e2e" font-size="12" textLength="29.03" lengthAdjust="spacingAndGlyphs">4.636</text><text x="1596.85" y="661.5" fill="#2e2e2e" font-size="12" textLength="23.05" lengthAdjust="spacingAndGlyphs">0.00</text><text x="1597.45" y="727.8" fill="#2e2e2e" font-size="12" textLength="25.84" lengthAdjust="spacingAndGlyphs">-8.51</text><text x="8.28" y="630.3" fill="#2e2e2e" font-size="11.7" textLength="78.77" lengthAdjust="spacingAndGlyphs">MACD(12,26,9)</text><text x="91.15" y="630.3" fill="#2e2e2e" font-size="11.7" textLength="33.94" lengthAdjust="spacingAndGlyphs">-4.059</text><text x="128.65" y="630.3" fill="#2e2e2e" font-size="11.7" textLength="33.44" lengthAdjust="spacingAndGlyphs">-3.439</text><text x="3.76" y="746.2" fill="#2e2e2e" font-size="12" textLength="66.69" lengthAdjust="spacingAndGlyphs">25 Aug 2022</text><text x="110.13" y="746.2" fill="#2e2e2e" font-size="12" textLength="71.96" lengthAdjust="spacingAndGlyphs">26 Aug 04:00</text><text x="217.14" y="746.2" fill="#2e2e2e" font-size="12" textLength="71.35" lengthAdjust="spacingAndGlyphs">29 Aug 00:00</text><text x="324.24" y="746.2" fill="#2e2e2e" font-size="12" textLength="71.14" lengthAdjust="spacingAndGlyphs">29 Aug 16:00</text><text x="429.93" y="746.2" fill="#2e2e2e" font-size="12" textLength="71.86" lengthAdjust="spacingAndGlyphs">30 Aug 09:00</text><text x="536.53" y="746.2" fill="#2e2e2e" font-size="12" textLength="71.86" lengthAdjust="spacingAndGlyphs">31 Aug 02:00</text><text x="643.23" y="746.2" fill="#2e2e2e" font-size="12" textLength="71.86" lengthAdjust="spacingAndGlyphs">31 Aug 18:00</text><text x="750.77" y="746.2" fill="#2e2e2e" font-size="12" textLength="62.63" lengthAdjust="spacingAndGlyphs">1 Sep 11:00</text><text x="857.16" y="746.2" fill="#2e2e2e" font-size="12" textLength="63.81" lengthAdjust="spacingAndGlyphs">2 Sep 04:00</text><text x="963.66" y="746.2" fill="#2e2e2e" font-size="12" textLength="64.02" lengthAdjust="spacingAndGlyphs">5 Sep 00:00</text><text x="1070.36" y="746.2" fill="#2e2e2e" font-size="12" textLength="64.22" lengthAdjust="spacingAndGlyphs">5 Sep 16:00</text><text x="1176.96" y="746.2" fill="#2e2e2e" font-size="12" textLength="64.02" lengthAdjust="spacingAndGlyphs">6 Sep 12:00</text></g><line x1="1278.5" y1="450.3" x2="1324" y2="590" stroke="#ff0000" stroke-width="5.2" stroke-linecap="round"/><polygon points="1335.5,623 1313,593.5 1336,585" fill="#ff0000"/></svg>
</body></html>
